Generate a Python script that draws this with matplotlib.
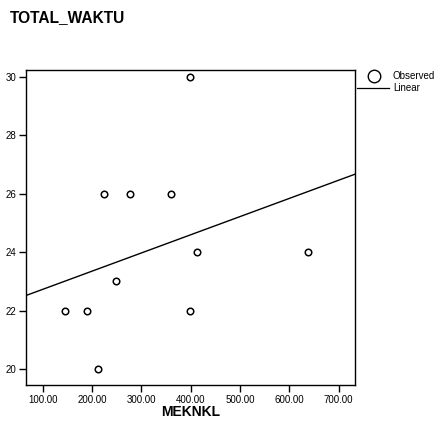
import numpy as np
import matplotlib
matplotlib.use("Agg")
import matplotlib.pyplot as plt
from matplotlib.lines import Line2D

plt.rcParams['font.family'] = ['Liberation Sans', 'DejaVu Sans']

meknkl = [145, 190, 211, 225, 248, 277, 360, 399, 413, 399, 638]
total_waktu = [22, 22, 20, 26, 23, 26, 26, 30, 24, 22, 24]
xticks = [100, 200, 300, 400, 500, 600, 700]
yticks = [20, 22, 24, 26, 28, 30]

W, H = 435, 421
fig = plt.figure(figsize=(W/100, H/100), dpi=100)
ax = fig.add_axes([26/W, 1-385/H, (355-26)/W, (385-70)/H])

xlim = (66, 733)
ylim = (19.46, 30.23)
ax.scatter(meknkl, total_waktu, s=22, facecolors='white', edgecolors='black', linewidths=1.1, zorder=3)
slope, inter = np.polyfit(meknkl, total_waktu, 1)
xx = np.array(xlim)
ax.plot(xx, slope*xx + inter, color='black', lw=1.0)
ax.set_xlim(*xlim)
ax.set_ylim(*ylim)
ax.set_xticks(xticks)
ax.set_xticklabels([f"{v:.2f}" for v in xticks])
ax.set_yticks(yticks)
ax.tick_params(direction='out', length=5, width=1, labelsize=7, pad=2)
for s in ax.spines.values():
    s.set_linewidth(1.0)

fig.text(10/W, 1-18/H, "TOTAL_WAKTU", fontsize=11.2, fontweight='bold', va='center', ha='left')
ax.set_xlabel("MEKNKL", fontsize=10, fontweight='bold', labelpad=0)

# legend
fig.add_artist(Line2D([374/W], [1-76/H], marker='o', markersize=9, markerfacecolor='white',
                      markeredgecolor='black', markeredgewidth=1.0, linestyle='none'))
fig.text(393/W, 1-76/H, "Observed", fontsize=7, va='center', ha='left')
fig.add_artist(Line2D([357/W, 389/W], [1-88/H, 1-88/H], color='black', lw=0.9))
fig.text(393/W, 1-88/H, "Linear", fontsize=7, va='center', ha='left')

fig.savefig("out.png", dpi=100)
